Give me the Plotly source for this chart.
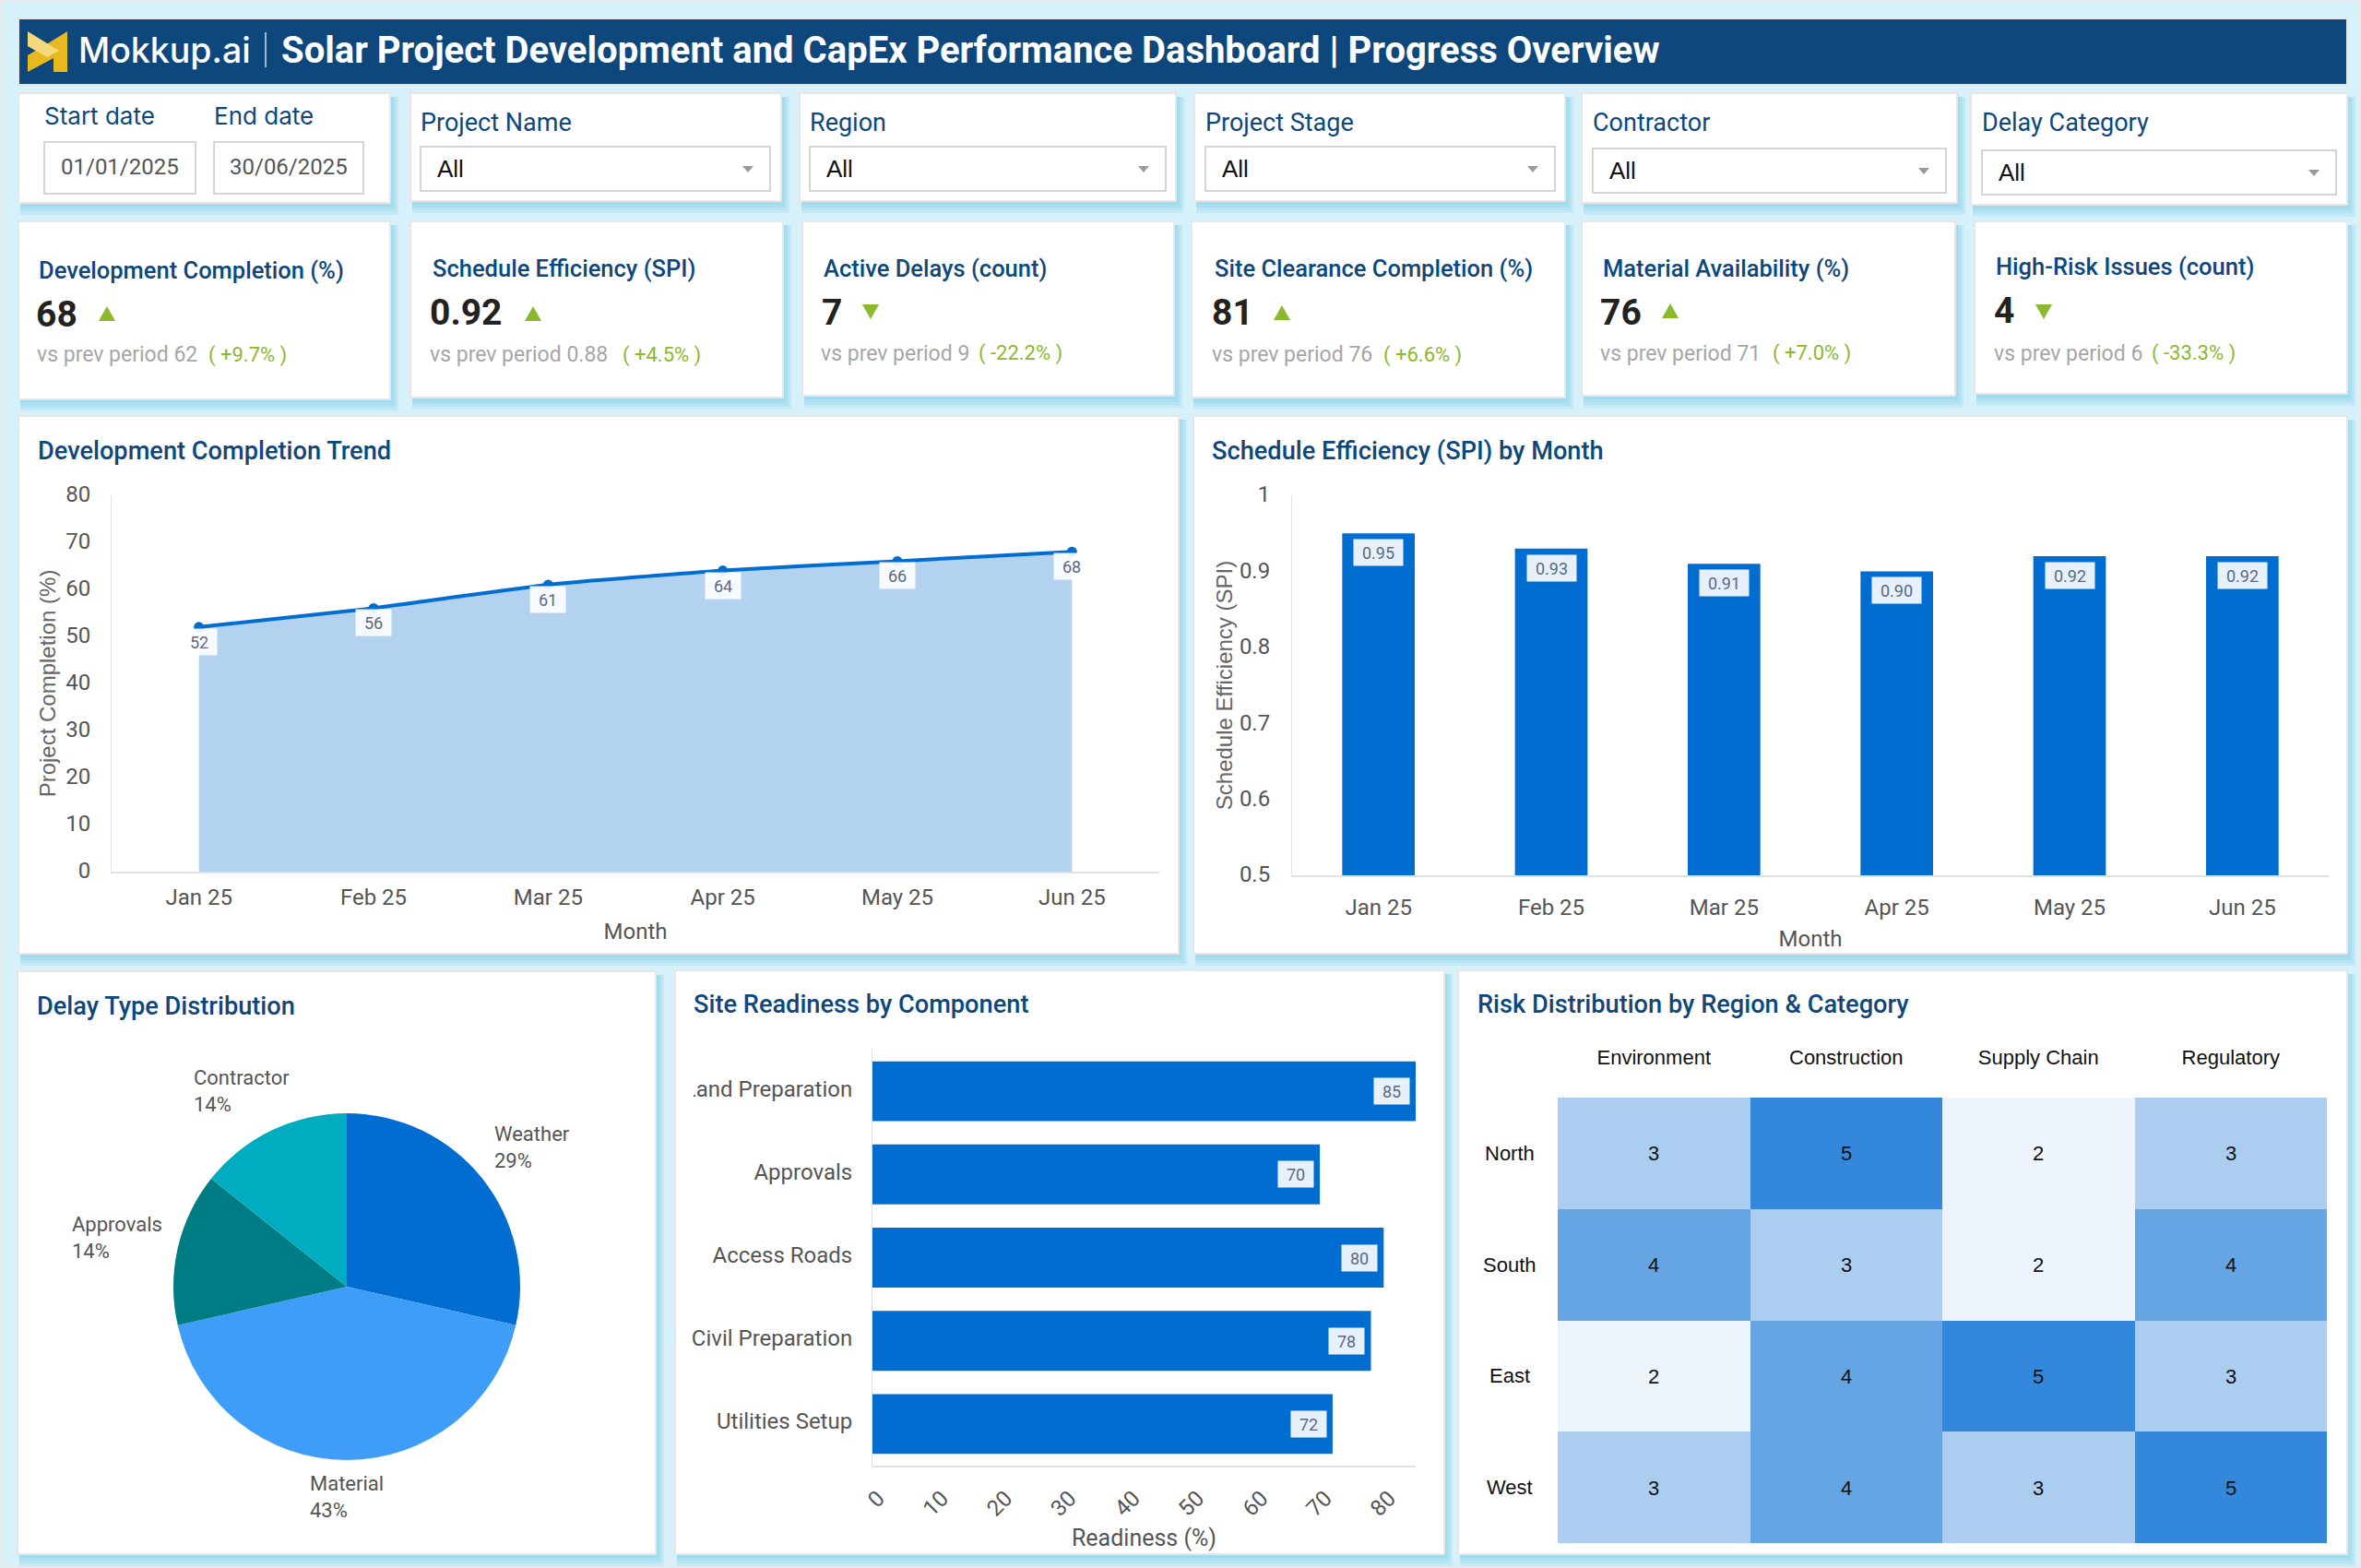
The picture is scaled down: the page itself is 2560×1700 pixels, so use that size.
import plotly.graph_objects as go

W, H = 2560, 1700

# data
MONTHS = ["Jan 25", "Feb 25", "Mar 25", "Apr 25", "May 25", "Jun 25"]
COMPLETION = [52, 56, 61, 64, 66, 68]
SPI = [0.95, 0.93, 0.91, 0.90, 0.92, 0.92]

DELAY_TYPES = ["Weather", "Material", "Approvals", "Contractor"]
DELAY_COUNTS = [2, 3, 1, 1]

COMPONENTS = ["Land Preparation", "Approvals", "Access Roads", "Civil Preparation", "Utilities Setup"]
READINESS = [85, 70, 80, 78, 72]

RISK_CATEGORIES = ["Environment", "Construction", "Supply Chain", "Regulatory"]
REGIONS = ["North", "South", "East", "West"]
RISK = [[3, 5, 2, 3], [4, 3, 2, 4], [2, 4, 5, 3], [3, 4, 3, 5]]

KPI_TITLES = [
    "Development Completion (%)", "Schedule Efficiency (SPI)", "Active Delays (count)",
    "Site Clearance Completion (%)", "Material Availability (%)", "High-Risk Issues (count)",
]
KPI_VALUES = ["68", "0.92", "7", "81", "76", "4"]
KPI_PREV = ["62", "0.88", "9", "76", "71", "6"]
KPI_DELTA = ["+9.7%", "+4.5%", "-22.2%", "+6.6%", "+7.0%", "-33.3%"]

FILTER_NAMES = ["Project Name", "Region", "Project Stage", "Contractor", "Delay Category"]
DATES = ["01/01/2025", "30/06/2025"]

# colours
NAVY = "#0d477c"
BLUE = "#026dd1"
GREEN = "#8bb92d"
GREY = "#555555"
LABEL = "#5c6884"
RULE = "#e2e2e2"

shapes = []
notes = []


def px(x):
    return x / W


def py(y):
    return 1 - y / H


def rect(x0, y0, x1, y1, fill="white", line=None, lw=0, layer="below"):
    shapes.append(dict(
        type="rect", xref="paper", yref="paper", x0=px(x0), y0=py(y0), x1=px(x1), y1=py(y1),
        fillcolor=fill, line=dict(color=line or "rgba(0,0,0,0)", width=lw), layer=layer,
    ))


def poly(points, fill):
    path = "M" + " L".join(f"{px(a):.5f},{py(b):.5f}" for a, b in points) + " Z"
    shapes.append(dict(type="path", xref="paper", yref="paper", path=path, fillcolor=fill,
                       line=dict(width=0), layer="below"))


def card(x0, y0, x1, y1):
    # soft blue shadow, wider layers first
    for grow in (13, 10, 7, 4):
        rect(x0 + 2, y0 + 4, x1 + grow * 0.7, y1 + grow, fill="rgba(110,200,230,0.17)")
    rect(x0, y0, x1, y1, line="#e6e6e6", lw=2)


def text(x, y, s, size, color=GREY, anchor="left", family="Roboto", weight=400):
    # annotations carry a little padding, pull left-aligned text back
    if anchor == "left":
        x -= 2
    notes.append(dict(
        xref="paper", yref="paper", x=px(x), y=py(y), text=s, showarrow=False,
        xanchor=anchor, yanchor="middle", align=anchor,
        font=dict(family=family, size=size, color=color, weight=weight),
    ))


def triangle(cx, cy, up):
    if up:
        poly([(cx - 9, cy + 8), (cx + 9, cy + 8), (cx, cy - 8)], GREEN)
    else:
        poly([(cx - 9, cy - 8), (cx + 9, cy - 8), (cx, cy + 8)], GREEN)


def data_label(xref, yref, x, y, s, w, xshift=0, yshift=0):
    notes.append(dict(
        xref=xref, yref=yref, x=x, y=y, text=s, showarrow=False, xshift=xshift, yshift=yshift,
        width=w, height=26, bgcolor="rgba(255,255,255,0.9)",
        font=dict(family="Roboto", size=18, color=LABEL),
    ))


# page and header
rect(2, 2, W - 2, H - 2, fill="#d6f1f9")
rect(20, 20, 2545, 92, fill=NAVY, line="#e6e6e6", lw=2)
poly([(73, 34), (73, 78), (58, 78), (58, 63), (30, 78), (30, 60), (52, 47)], "#e8b91f")
poly([(30, 34), (64, 55), (51, 62), (30, 50)], "#f3d97c")
shapes.append(dict(type="line", xref="paper", yref="paper", x0=px(288), x1=px(288), y0=py(35), y1=py(73),
                   line=dict(color="#9db8d1", width=2), layer="below"))
text(85, 55, "Mokkup.ai", 37.5, "white", family="Inter", weight=500)
text(305, 55, "Solar Project Development and CapEx Performance Dashboard | Progress Overview",
     40, "white", weight=700)

# date filter
card(20, 101, 423, 220)
for x, name in zip((48, 232), ("Start date", "End date")):
    text(x, 126, name, 26, NAVY, family="Inter")
for (x0, x1), date in zip(((48, 212), (232, 394)), DATES):
    rect(x0, 154, x1, 210, line="#d5d5d5", lw=2)
    text((x0 + x1) / 2, 181, date, 24, GREY, anchor="center")

# dropdown filters: card, box and text positions
filter_cards = [(445, 847, 218), (867, 1275, 218), (1295, 1697, 218), (1715, 2122, 220), (2137, 2545, 222)]
filter_boxes = [(456, 835, 159), (878, 1264, 159), (1307, 1686, 159), (1727, 2110, 161), (2149, 2533, 163)]
for name, (cx0, cx1, cy1), (bx0, bx1, by0) in zip(FILTER_NAMES, filter_cards, filter_boxes):
    card(cx0, 101, cx1, cy1)
    text(bx0, 133, name, 27, NAVY)
    rect(bx0, by0, bx1, by0 + 48, line="#d5d5d5", lw=2)
    text(bx0 + 18, by0 + 24, "All", 26, "#111111", family="Liberation Sans")
    cx, cy = bx1 - 24, by0 + 24
    poly([(cx - 6, cy - 3), (cx + 6, cy - 3), (cx, cy + 4)], "#9a9a9a")

# KPI cards
kpi_cards = [(20, 423, 433), (445, 849, 431), (870, 1273, 429), (1292, 1697, 431), (1715, 2120, 429), (2141, 2545, 427)]
kpi_x = [(42, 39, 116, 40, 226), (469, 466, 578, 466, 675), (893, 891, 944, 890, 1061),
         (1317, 1314, 1390, 1314, 1500), (1738, 1735, 1811, 1735, 1922), (2164, 2162, 2216, 2162, 2333)]
kpi_y = [(293, 341, 340, 385), (291, 339, 340, 385), (291, 339, 338, 383),
         (291, 339, 339, 385), (291, 339, 337, 383), (289, 337, 338, 383)]
for i, (cx0, cx1, cy1) in enumerate(kpi_cards):
    card(cx0, 240, cx1, cy1)
    tx, vx, arrow_x, sx, dx = kpi_x[i]
    ty, vy, arrow_y, sy = kpi_y[i]
    text(tx, ty, KPI_TITLES[i], 25.5, NAVY, weight=500)
    text(vx, vy, KPI_VALUES[i], 39, "#222222", weight=700)
    triangle(arrow_x, arrow_y, not KPI_DELTA[i].startswith("-"))
    text(sx, sy, f"vs prev period {KPI_PREV[i]}", 23, "#a6a6a6")
    text(dx, sy, f"( {KPI_DELTA[i]} )", 22, GREEN)

# chart cards
card(20, 451, 1278, 1034)
card(1294, 451, 2545, 1034)
card(19, 1053, 711, 1685)
card(732, 1052, 1566, 1685)
card(1581, 1052, 2545, 1685)
text(41, 489, "Development Completion Trend", 27.2, NAVY, weight=500)
text(1314, 489, "Schedule Efficiency (SPI) by Month", 27.2, NAVY, weight=500)
text(40, 1091, "Delay Type Distribution", 27.2, NAVY, weight=500)
text(752, 1089, "Site Readiness by Component", 27.2, NAVY, weight=500)
text(1602, 1089, "Risk Distribution by Region & Category", 27.2, NAVY, weight=500)


def x_dom(x0, x1):
    return [px(x0), px(x1)]


def y_dom(y0, y1):
    return [py(y1), py(y0)]


tick_font = dict(family="Roboto", size=24, color=GREY)
title_font = dict(family="Roboto", size=24, color=GREY)
side_font = dict(family="Liberation Sans", size=24, color="#666666")

fig = go.Figure()

# development completion
fig.add_trace(go.Scatter(
    x=MONTHS, y=COMPLETION, mode="lines+markers", xaxis="x", yaxis="y",
    line=dict(color=BLUE, width=4, shape="spline", smoothing=0.5),
    marker=dict(color=BLUE, size=11), fill="tozeroy", fillcolor="#b2d2f0",
))
for m, v in zip(MONTHS, COMPLETION):
    data_label("x", "y", m, v, str(v), 36, yshift=-16)

# SPI bars
fig.add_trace(go.Bar(x=MONTHS, y=SPI, xaxis="x2", yaxis="y2", width=0.42, marker=dict(color=BLUE, line=dict(width=0))))
for m, v in zip(MONTHS, SPI):
    data_label("x2", "y2", m, v, f"{v:.2f}", 51, yshift=-21)

# delay pie
fig.add_trace(go.Pie(
    labels=DELAY_TYPES, values=DELAY_COUNTS, sort=False, direction="clockwise", rotation=0,
    textinfo="none", marker=dict(colors=[BLUE, "#3f9cf7", "#007c85", "#00adc0"], line=dict(width=0)),
    domain=dict(x=x_dom(188, 564), y=y_dom(1207, 1583)),
))
pie_label_pos = [(536, 1244), (336, 1623), (78, 1342), (210, 1183)]
total = sum(DELAY_COUNTS)
for (x, y), name, n in zip(pie_label_pos, DELAY_TYPES, DELAY_COUNTS):
    text(x, y, f"{name}<br>{n / total:.0%}", 22, GREY)

# site readiness bars
fig.add_trace(go.Bar(
    y=COMPONENTS, x=READINESS, orientation="h", xaxis="x3", yaxis="y3", width=0.72,
    marker=dict(color=BLUE, line=dict(width=0)),
))
for c, v in zip(COMPONENTS, READINESS):
    data_label("x3", "y3", v, c, str(v), 36, xshift=-26)
# the first category label is cut off by the panel edge in the original
rect(736, 1170, 752, 1196, layer="above")

# risk heatmap
fig.add_trace(go.Heatmap(
    z=RISK, x=RISK_CATEGORIES, y=REGIONS, xaxis="x4", yaxis="y4", zmin=2, zmax=5, showscale=False,
    colorscale=[[0, "#ecf3fb"], [1 / 3, "#aacdf0"], [2 / 3, "#65a5e3"], [1, "#3388db"]],
    texttemplate="%{z}", textfont=dict(family="Liberation Sans", size=22, color="#111111"),
))
for r in REGIONS:
    notes.append(dict(xref="paper", yref="y4", x=px(1637), y=r, text=r, showarrow=False,
                      font=dict(family="Liberation Sans", size=22, color="#111111")))

fig.update_layout(
    width=W, height=H, margin=dict(l=0, r=0, t=0, b=0, autoexpand=False), autosize=False,
    paper_bgcolor="#e8e8e8", plot_bgcolor="rgba(0,0,0,0)", showlegend=False,
    shapes=shapes, annotations=notes,
    xaxis=dict(domain=x_dom(121, 1257), anchor="y", type="category", range=[-0.5, 5.5], tickfont=tick_font,
               showgrid=False, showline=True, linecolor=RULE, linewidth=2, ticklabelstandoff=5,
               title=dict(text="Month", font=title_font, standoff=15)),
    yaxis=dict(domain=y_dom(537, 945), anchor="x", range=[0, 80], dtick=10, tickfont=tick_font, showgrid=False,
               zeroline=False, showline=True, linecolor=RULE, linewidth=1, ticklabelstandoff=17, ticklabelshift=-1,
               title=dict(text="Project Completion (%)", font=side_font, standoff=3)),
    xaxis2=dict(domain=x_dom(1401, 2525), anchor="y2", type="category", range=[-0.5, 5.5], tickfont=tick_font,
                showgrid=False, showline=True, linecolor=RULE, linewidth=2, ticklabelstandoff=12,
                title=dict(text="Month", font=title_font, standoff=12)),
    yaxis2=dict(domain=y_dom(537, 949), anchor="x2", range=[0.5, 1], dtick=0.1, tickfont=tick_font, showgrid=False,
                zeroline=False, showline=True, linecolor=RULE, linewidth=1, ticklabelstandoff=18, ticklabelshift=-1,
                tickformat="~g", title=dict(text="Schedule Efficiency (SPI)", font=side_font, standoff=0)),
    xaxis3=dict(domain=x_dom(946, 1535), anchor="y3", range=[0, 85], dtick=10, tickangle=-45, tickfont=tick_font,
                showgrid=False, zeroline=False, showline=True, linecolor=RULE, linewidth=2, ticklabelshift=6,
                ticklabelstandoff=10,
                title=dict(text="Readiness (%)", font=dict(title_font, size=25), standoff=10)),
    yaxis3=dict(domain=y_dom(1138, 1589), anchor="x3", type="category", range=[4.5, -0.5], tickfont=tick_font,
                showgrid=False, showline=True, linecolor=RULE, linewidth=1, ticklabelstandoff=16, ticklabelshift=3),
    xaxis4=dict(domain=x_dom(1689, 2523), anchor="y4", side="top", tickfont=dict(family="Liberation Sans", size=22, color="#111111"),
                showgrid=False, showline=False, ticks="", ticklabelstandoff=31),
    yaxis4=dict(domain=y_dom(1190, 1673), anchor="x4", autorange="reversed", showticklabels=False,
                showgrid=False, showline=False, ticks=""),
)

fig.write_html("out.html", config={"displayModeBar": False},
               post_script="document.body.style.margin='0';")
